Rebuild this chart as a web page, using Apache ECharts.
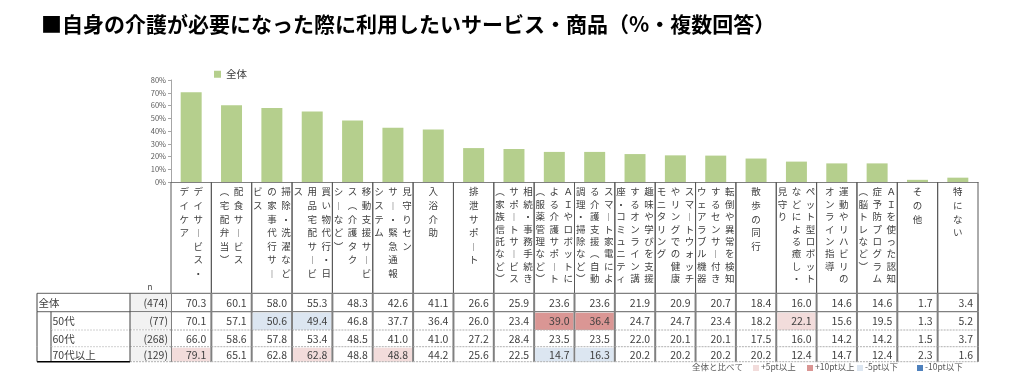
<!DOCTYPE html>
<html><head><meta charset="utf-8">
<script src="https://cdn.jsdelivr.net/npm/echarts@6/dist/echarts.min.js"></script>
<style>html,body{margin:0;padding:0;background:#fff}#c{width:1017px;height:378px}</style>
</head><body><div id="c"></div>
<script>
// ---------- DATA ----------
const titleText = '■自身の介護が必要になった際に利用したいサービス・商品（%・複数回答）';
const categories = [
  'デイサービス・\nデイケア',
  '配食サービス\n（宅配弁当）',
  '掃除・洗濯など\nの家事代行サー\nビス',
  '買い物代行・日\n用品宅配サービ\nス',
  '移動支援サービ\nス（介護タク\nシーなど）',
  '見守りセン\nサー・緊急通報\nシステム',
  '入浴介助',
  '排泄サポート',
  '相続・事務手続き\nサポートサービス\n（家族信託など）',
  'ＡＩやロボットに\nよる介護サポート\n（服薬管理など）',
  'スマート家電によ\nる介護支援（自動\n調理・掃除など）',
  '趣味や学びを支援\nするオンライン講\n座・コミュニティ',
  'スマートウォッチ\nやリングでの健康\nモニタリング',
  '転倒や異常を検知\nするセンサー付き\nウェアラブル機器',
  '散歩の同行',
  'ペット型ロボット\nなどによる癒し・\n見守り',
  '運動やリハビリの\nオンライン指導',
  'ＡＩを使った認知\n症予防プログラム\n（脳トレなど）',
  'その他',
  '特にない'
];
const rowNames = ['全体', '50代', '60代', '70代以上'];
const rowN = [474, 77, 268, 129];
const total  = [70.3, 60.1, 58.0, 55.3, 48.3, 42.6, 41.1, 26.6, 25.9, 23.6, 23.6, 21.9, 20.9, 20.7, 18.4, 16.0, 14.6, 14.6, 1.7, 3.4];
const age50  = [70.1, 57.1, 50.6, 49.4, 46.8, 37.7, 36.4, 26.0, 23.4, 39.0, 36.4, 24.7, 24.7, 23.4, 18.2, 22.1, 15.6, 19.5, 1.3, 5.2];
const age60  = [66.0, 58.6, 57.8, 53.4, 48.5, 41.0, 41.0, 27.2, 28.4, 23.5, 23.5, 22.0, 20.1, 20.1, 17.5, 16.0, 14.2, 14.2, 1.5, 3.7];
const age70  = [79.1, 65.1, 62.8, 62.8, 48.8, 48.8, 44.2, 25.6, 22.5, 14.7, 16.3, 20.2, 20.2, 20.2, 20.2, 12.4, 14.7, 12.4, 2.3, 1.6];
const yAxisMax = 80;
const yAxisStep = 10;
const compareLabel = '全体と比べて';
const compareKeys = ['+5pt以上', '+10pt以上', '-5pt以下', '-10pt以下'];

// ---------- LAYOUT / STYLE ----------
const FONT = '"Noto Sans CJK JP","Noto Sans",sans-serif';
const rowsData = [total, age50, age60, age70];
const ROWB = [0, 111.3, 129.7, 148, 164.7, 179.7]; // table row boundaries (table-axis units = px)
const HL = {'+5pt以上': '#f2dcdb', '+10pt以上': '#da9694', '-5pt以下': '#dce6f1', '-10pt以下': '#4f81bd'};
function hlColor(d) {
  d = Math.round(d * 10) / 10;
  if (d > 10) return HL['+10pt以上'];
  if (d > 5) return HL['+5pt以上'];
  if (d < -10) return HL['-10pt以下'];
  if (d < -5) return HL['-5pt以下'];
  return null;
}
const VERT = {'ー': '︱', '（': '︵', '）': '︶'};

const headerData = categories.map((c, i) => [i]);
const cellData = [];
rowsData.forEach((arr, r) => arr.forEach((v, c) => cellData.push([c, r, v, v - total[c]])));
const stubData = rowNames.map((n, r) => [r]);

function renderHeader(params, api) {
  const c = api.value(0);
  const p0 = api.coord([c, 0]);
  const p1 = api.coord([c, ROWB[1]]);
  const w = api.size([1, 0])[0];
  const cx = p0[0];
  const lines = categories[c].split('\n');
  const maxLen = Math.max(...lines.map(l => Array.from(l).length));
  const dy = maxLen >= 8 ? 12.4 : 13.6;
  const dx = 14;
  const ch = [];
  lines.forEach((ln, j) => {
    const x = cx + (lines.length - 1) * dx / 2 - j * dx;
    Array.from(ln).forEach((t, k) => {
      ch.push({type: 'text', style: {text: VERT[t] || t, x: x, y: p0[1] + 9.7 + k * dy,
        align: 'center', verticalAlign: 'middle', fontSize: 9.5, fill: '#404040', fontFamily: FONT}});
    });
  });
  const xl = cx - w / 2, xr = cx + w / 2;
  ch.push({type: 'line', shape: {x1: xl, y1: p0[1], x2: xl, y2: p1[1]}, style: {stroke: '#595959', lineWidth: 1}});
  ch.push({type: 'line', shape: {x1: xr, y1: p0[1], x2: xr, y2: p1[1]}, style: {stroke: '#595959', lineWidth: 1}});
  return {type: 'group', children: ch};
}

function renderCell(params, api) {
  const c = api.value(0), r = api.value(1), v = api.value(2), d = api.value(3);
  const w = api.size([1, 0])[0];
  const a = api.coord([c, ROWB[r + 1]]);
  const b = api.coord([c, ROWB[r + 2]]);
  const xl = a[0] - w / 2, xr = a[0] + w / 2;
  const ch = [];
  const col = r > 0 ? hlColor(d) : null;
  if (col) ch.push({type: 'rect', shape: {x: xl + 1, y: a[1] + 1, width: w - 2, height: b[1] - a[1] - 1}, style: {fill: col}});
  ch.push({type: 'text', style: {text: v.toFixed(1), x: xr - 5, y: (a[1] + b[1]) / 2 + 0.5, align: 'right', verticalAlign: 'middle',
    fontSize: 10.5, fill: '#404040', fontFamily: FONT}});
  // borders
  const solid = {stroke: '#808080', lineWidth: 1.2};
  const dashed = {stroke: '#b0b0b0', lineWidth: 1, lineDash: [2, 1]};
  if (r === 0) ch.push({type: 'line', shape: {x1: xl, y1: a[1], x2: xr, y2: a[1]}, style: solid});
  ch.push({type: 'line', shape: {x1: xl, y1: b[1], x2: xr, y2: b[1]}, style: r === 0 ? solid : dashed});
  ch.push({type: 'line', shape: {x1: xr, y1: a[1], x2: xr, y2: b[1]}, style: {stroke: '#808080', lineWidth: 2}});
  if (c === 0) ch.push({type: 'line', shape: {x1: xl, y1: a[1], x2: xl, y2: b[1]}, style: {stroke: '#808080', lineWidth: 2}});
  return {type: 'group', children: ch};
}

function renderStub(params, api) {
  const r = api.value(0);
  const a = api.coord([0, ROWB[r + 1]]);
  const b = api.coord([134, ROWB[r + 2]]);
  const xInd = api.coord([14, 0])[0];
  const xN = api.coord([93, 0])[0];
  const ym = (a[1] + b[1]) / 2 + 0.5;
  const ch = [];
  ch.push({type: 'rect', shape: {x: xN, y: a[1] + 0.5, width: b[0] - xN, height: b[1] - a[1] - 1}, style: {fill: '#f2f2f2'}});
  ch.push({type: 'text', style: {text: rowNames[r], x: r === 0 ? a[0] + 1.5 : xInd + 1.5, y: ym, align: 'left', verticalAlign: 'middle',
    fontSize: 10.5, fill: '#404040', fontFamily: FONT}});
  ch.push({type: 'text', style: {text: '(' + rowN[r] + ')', x: b[0] - 3, y: ym, align: 'right', verticalAlign: 'middle',
    fontSize: 10.5, fill: '#404040', fontFamily: FONT}});
  const dark = {stroke: '#404040', lineWidth: 1};
  const solid = {stroke: '#808080', lineWidth: 1.2};
  const dashed = {stroke: '#b0b0b0', lineWidth: 1, lineDash: [2, 1]};
  if (r === 0) {
    ch.push({type: 'line', shape: {x1: a[0], y1: a[1], x2: b[0], y2: a[1]}, style: solid});
    ch.push({type: 'line', shape: {x1: a[0], y1: b[1], x2: b[0], y2: b[1]}, style: solid});
    ch.push({type: 'text', style: {text: 'n', x: api.coord([113, 0])[0], y: a[1] - 6, align: 'center', verticalAlign: 'middle',
      fontSize: 8, fill: '#404040', fontFamily: FONT}});
  } else {
    ch.push({type: 'line', shape: {x1: xInd, y1: a[1], x2: xInd, y2: b[1]}, style: dark});
    ch.push({type: 'line', shape: {x1: xN, y1: b[1], x2: b[0], y2: b[1]}, style: dashed});
    if (r !== 3) ch.push({type: 'line', shape: {x1: xInd, y1: b[1], x2: xN, y2: b[1]}, style: {stroke: '#d0d0d0', lineWidth: 1, lineDash: [2, 1]}});
    else ch.push({type: 'line', shape: {x1: a[0], y1: b[1], x2: xN, y2: b[1]}, style: {stroke: '#000', lineWidth: 1.5}});
  }
  ch.push({type: 'line', shape: {x1: a[0], y1: a[1], x2: a[0], y2: b[1]}, style: dark});
  ch.push({type: 'line', shape: {x1: xN, y1: a[1], x2: xN, y2: b[1]}, style: dark});
  return {type: 'group', children: ch};
}

// bottom legend (graphic)
const legendX = [753, 807, 857, 917];
const legendGraphic = [{type: 'text', left: 692, top: 363, style: {text: compareLabel, fontSize: 8.5, fill: '#595959', fontFamily: FONT}}];
compareKeys.forEach((k, i) => {
  legendGraphic.push({type: 'rect', left: legendX[i], top: 365, shape: {width: 6, height: 6}, style: {fill: HL[k]}});
  legendGraphic.push({type: 'text', left: legendX[i] + 8, top: 363, style: {text: k, fontSize: 8.5, fill: '#595959', fontFamily: FONT}});
});

const chart = echarts.init(document.getElementById('c'), null, {renderer: 'canvas'});
chart.setOption({
  backgroundColor: '#fff',
  animation: false,
  title: {text: titleText, left: 36, top: 9, textStyle: {fontSize: 21, fontWeight: 'bold', color: '#000', fontFamily: FONT}},
  legend: {data: ['全体'], left: 209, top: 64, icon: 'rect', itemWidth: 7, itemHeight: 7, itemGap: 4,
    textStyle: {fontSize: 10.5, color: '#404040', fontFamily: FONT}},
  graphic: legendGraphic,
  grid: [
    {left: 171, right: 39, top: 80, height: 102},
    {left: 171, right: 39, top: 182, height: 179.7},
    {left: 37, width: 134, top: 182, height: 179.7}
  ],
  xAxis: [
    {type: 'category', gridIndex: 0, data: categories, axisLine: {lineStyle: {color: '#808080', width: 1}}, axisTick: {show: false}, axisLabel: {show: false}},
    {type: 'category', gridIndex: 1, data: categories, show: false},
    {type: 'value', gridIndex: 2, min: 0, max: 134, show: false}
  ],
  yAxis: [
    {type: 'value', gridIndex: 0, min: 0, max: yAxisMax, interval: yAxisStep,
      axisLine: {show: true, lineStyle: {color: '#a6a6a6'}}, axisTick: {show: true, length: 3, lineStyle: {color: '#a6a6a6'}},
      splitLine: {show: false},
      axisLabel: {formatter: '{value}%', fontSize: 7.5, color: '#595959', margin: 5, fontFamily: FONT}},
    {type: 'value', gridIndex: 1, min: 0, max: 179.7, inverse: true, show: false},
    {type: 'value', gridIndex: 2, min: 0, max: 179.7, inverse: true, show: false}
  ],
  series: [
    {name: '全体', type: 'bar', xAxisIndex: 0, yAxisIndex: 0, data: total, barWidth: '52%', itemStyle: {color: '#b5cf8d'}},
    {type: 'custom', xAxisIndex: 1, yAxisIndex: 1, data: headerData, renderItem: renderHeader, silent: true},
    {type: 'custom', xAxisIndex: 1, yAxisIndex: 1, data: cellData, renderItem: renderCell, silent: true},
    {type: 'custom', xAxisIndex: 2, yAxisIndex: 2, data: stubData, renderItem: renderStub, silent: true}
  ]
});
</script></body></html>
